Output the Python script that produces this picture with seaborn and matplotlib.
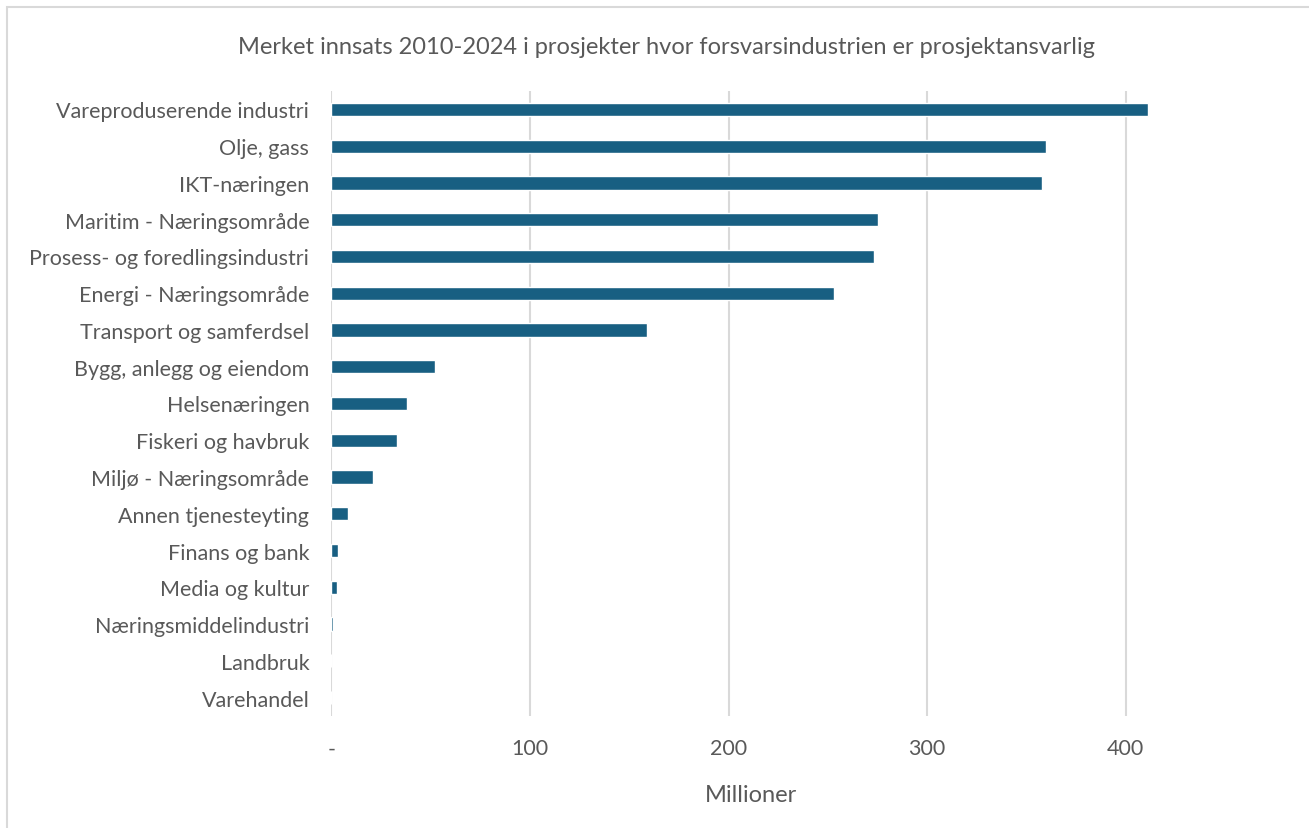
import matplotlib
matplotlib.use("Agg")
import matplotlib.pyplot as plt
import seaborn as sns
import pandas as pd
from matplotlib.patches import Rectangle

categories = [
    "Vareproduserende industri",
    "Olje, gass",
    "IKT-næringen",
    "Maritim - Næringsområde",
    "Prosess- og foredlingsindustri",
    "Energi - Næringsområde",
    "Transport og samferdsel",
    "Bygg, anlegg og eiendom",
    "Helsenæringen",
    "Fiskeri og havbruk",
    "Miljø - Næringsområde",
    "Annen tjenesteyting",
    "Finans og bank",
    "Media og kultur",
    "Næringsmiddelindustri",
    "Landbruk",
    "Varehandel",
]
values = [411, 360, 358, 275, 273, 253, 159, 52, 38, 33, 21, 8.5, 3.4, 2.9, 0.8, 0, 0]
x_ticks = [0, 100, 200, 300, 400]
x_ticklabels = ["-", "100", "200", "300", "400"]

df = pd.DataFrame({"Næring": categories, "Millioner": values})

sns.set_theme(style="white")
plt.rcParams["font.family"] = ["Lato", "DejaVu Sans"]

fig = plt.figure(figsize=(13.09, 8.29), dpi=100)
ax = fig.add_axes([331.5 / 1309, 1 - 717 / 829, (1225 - 331.5) / 1309, (717 - 92) / 829])

sns.barplot(data=df, x="Millioner", y="Næring", orient="h", color="#185F82",
            width=0.36, saturation=1, ax=ax, zorder=3)

ax.set_xlim(0, 450)
ax.set_xticks(x_ticks)
ax.set_xticklabels(x_ticklabels)
ax.grid(axis="x", color="#d9d9d9", linewidth=1.5, zorder=0)
ax.grid(axis="y", visible=False)
for s in ax.spines.values():
    s.set_visible(False)

text_color = "#595959"
ax.tick_params(axis="y", length=0, pad=16, labelsize=15.5, labelcolor=text_color)
ax.tick_params(axis="x", length=0, pad=16, labelsize=15.5, labelcolor=text_color)
ax.set_ylabel("")
ax.set_xlabel("Millioner", fontsize=17, color=text_color)
ax.xaxis.set_label_coords((751 - 331.5) / (1225 - 331.5), -(796 - 717) / (717 - 92))
ax.xaxis.label.set_va("center")

fig.text(666 / 1309, 1 - 47 / 829, "Merket innsats 2010-2024 i prosjekter hvor forsvarsindustrien er prosjektansvarlig",
         ha="center", va="center", fontsize=17, color=text_color)

# chart frame
fig.patches.append(Rectangle((7 / 1309, -0.05), 1.1, 1 - 8 / 829 + 0.05, transform=fig.transFigure,
                             fill=False, edgecolor="#d9d9d9", linewidth=1.5))

fig.savefig("out.png", dpi=100, facecolor="white")
